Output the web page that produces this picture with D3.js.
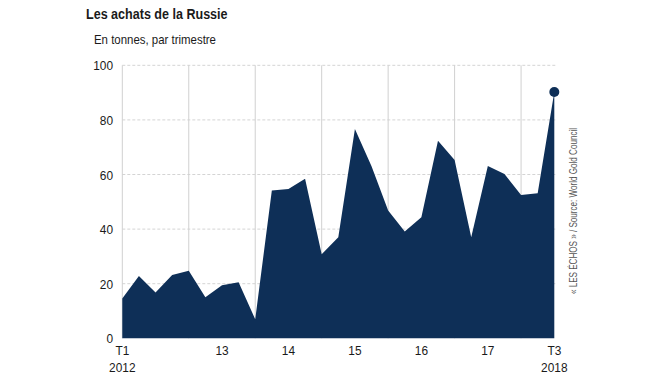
<!DOCTYPE html>
<html>
<head>
<meta charset="utf-8">
<script src="https://cdn.jsdelivr.net/npm/d3@7"></script>
<style>
  body { margin: 0; background: #fff; }
  svg text { font-family: "Liberation Sans", Arial, sans-serif; }
</style>
</head>
<body>
<div id="chart"></div>
<script>
// achats trimestriels, T1 2012 -> T3 2018
const quarters = d3.range(27)
const tonnes = [14.6, 22.8, 16.8, 23.2, 24.7, 15.0, 19.4, 20.5, 7.0,
    54.1, 54.7, 58.4, 30.8, 37.0, 76.7, 63.0, 46.8, 39.1,
    44.3, 72.4, 65.3, 37.0, 63.1, 60.2, 52.5, 53.1, 90.2]
const yTicks = [0, 20, 40, 60, 80, 100]
const yearLines = [4, 8, 12, 16, 20, 24]
const xLabels = [
    { i: 0, l1: "T1", l2: "2012" },
    { i: 6, l1: "13" },
    { i: 10, l1: "14" },
    { i: 14, l1: "15" },
    { i: 18, l1: "16" },
    { i: 22, l1: "17" },
    { i: 26, l1: "T3", l2: "2018" }
]

const width = 670, height = 377
const narrow = 0.88 // police condensée

var svg = d3.select("#chart")
    .append("svg")
    .attr("width", width)
    .attr("height", height)

var x = d3.scaleLinear().domain([0, 26]).range([122.3, 554.3])
var y = d3.scaleLinear().domain([0, 100]).range([338.3, 65.3])

// titre
svg.append("text")
    .attr("transform", "translate(86,19) scale(0.81,1)")
    .style("font-size", "15.5px").style("font-weight", "bold")
    .attr("fill", "#1a1a1a")
    .text("Les achats de la Russie")
svg.append("text")
    .attr("transform", "translate(94,44) scale(" + narrow + ",1)")
    .style("font-size", "13px")
    .attr("fill", "#1a1a1a")
    .text("En tonnes, par trimestre")

// grille
svg.append("g")
    .selectAll("line")
    .data(yTicks.filter(d => d > 0))
    .enter().append("line")
    .attr("x1", x(0)).attr("x2", 557)
    .attr("y1", d => y(d)).attr("y2", d => y(d))
    .attr("stroke", "#d4d4d4")
    .attr("stroke-dasharray", "3,2")

svg.append("g")
    .selectAll("line")
    .data(yearLines)
    .enter().append("line")
    .attr("x1", d => x(d)).attr("x2", d => x(d))
    .attr("y1", y(100)).attr("y2", y(0))
    .attr("stroke", "#d0d0d0")

svg.append("line")
    .attr("x1", x(0)).attr("x2", x(0))
    .attr("y1", y(100)).attr("y2", y(0))
    .attr("stroke", "#d0d0d0")

// aire
var area = d3.area()
    .x(d => x(d))
    .y0(y(0))
    .y1(d => y(tonnes[d]))

svg.append("path")
    .datum(quarters)
    .attr("d", area)
    .attr("fill", "#0e2f57")

svg.append("circle")
    .attr("cx", x(26)).attr("cy", y(tonnes[26]))
    .attr("r", 5)
    .attr("fill", "#0e2f57")

// axe y
svg.append("g")
    .selectAll("text")
    .data(yTicks)
    .enter().append("text")
    .attr("transform", d => "translate(113," + (y(d) + 5) + ") scale(" + narrow + ",1)")
    .attr("text-anchor", "end")
    .style("font-size", "13.5px")
    .attr("fill", "#1a1a1a")
    .text(d => d)

// axe x
var xl = svg.append("g")
    .selectAll("text")
    .data(xLabels)
    .enter().append("text")
    .attr("transform", d => "translate(" + x(d.i) + ",0) scale(" + narrow + ",1)")
    .attr("text-anchor", "middle")
    .style("font-size", "13.5px")
    .attr("fill", "#1a1a1a")
xl.append("tspan")
    .attr("x", 0).attr("y", 355)
    .text(d => d.l1)
xl.filter(d => d.l2).append("tspan")
    .attr("x", 0).attr("y", 372)
    .text(d => d.l2)

// source
svg.append("text")
    .attr("transform", "translate(577,211) rotate(-90) scale(0.75,1)")
    .attr("text-anchor", "middle")
    .style("font-size", "10.8px")
    .attr("fill", "#555")
    .text("« LES ÉCHOS » / Source: World Gold Council")
</script>
</body>
</html>
